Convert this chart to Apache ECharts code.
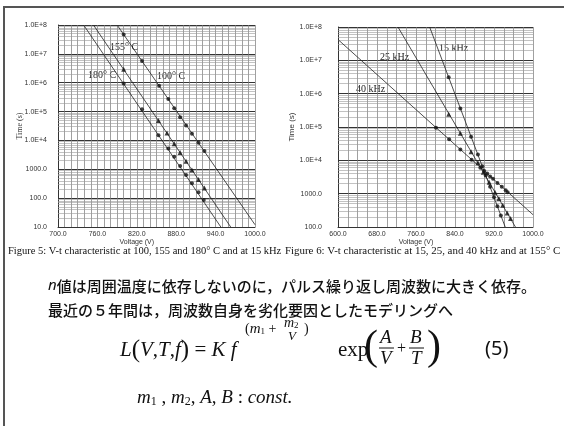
<!DOCTYPE html>
<html>
<head>
<meta charset="utf-8">
<script src="https://cdn.jsdelivr.net/npm/echarts@6/dist/echarts.min.js"></script>
<style>
html, body { margin: 0; padding: 0; background: #fff; }
#main { width: 564px; height: 426px; }
</style>
</head>
<body>
<div id="main"></div>
<script>
// Figure 5 : V-t at 100, 155, 180 C (15 kHz)
let volt100 = [800, 828, 854, 868, 877, 886, 895, 904, 914, 923];
let time100 = [4.7e7, 5.6e6, 7.9e5, 2.7e5, 1.3e5, 6.3e4, 3.3e4, 1.7e4, 8.3e3, 4.3e3];
let volt155 = [800, 853, 866, 877, 886, 895, 904, 914, 923];
let time155 = [2.9e6, 4.9e4, 1.8e4, 7.6e3, 3.8e3, 1.9e3, 950, 445, 225];
let volt180 = [800, 828, 853, 868, 877, 886, 895, 904, 914, 922];
let time180 = [9.4e5, 1.2e5, 1.5e4, 5.3e3, 2.7e3, 1.3e3, 630, 325, 160, 86];
// fitted lines (end points)
let fit100 = [[790, 1e8], [1000, 12]];
let fit155 = [[754, 1e8], [963, 10]];
let fit180 = [[739, 1e8], [948, 10]];

// Figure 6 : V-t at 15, 25, 40 kHz (155 C)
let volt15 = [827, 851, 873, 887, 896, 903, 912, 920, 927, 934];
let time15 = [3.1e6, 3.6e5, 5.1e4, 1.5e4, 6.6e3, 3.5e3, 1.6e3, 780, 420, 220];
let volt25 = [827, 851, 873, 887, 898, 910, 922, 930, 938, 947, 954];
let time25 = [2.4e5, 6.5e4, 1.8e4, 8.5e3, 4.4e3, 2.2e3, 1.1e3, 710, 450, 265, 180];
let volt40 = [801, 828, 851, 874, 892, 900, 906, 912, 918, 927, 936, 944, 948];
let time40 = [9.5e4, 4.3e4, 2.1e4, 1.05e4, 6.0e3, 4.8e3, 4.0e3, 3.3e3, 2.8e3, 2.1e3, 1.6e3, 1.26e3, 1.1e3];
let fit15 = [[788, 1e8], [943, 100]];
let fit25 = [[723, 1e8], [964, 100]];
let fit40 = [[600, 4.2e7], [1000, 234]];

// tick labels
let xTicks5 = [700, 760, 820, 880, 940, 1000];
let xLabels5 = ['700.0', '760.0', '820.0\nVoltage (V)', '880.0', '940.0', '1000.0'];
let xTicks6 = [600, 680, 760, 840, 920, 1000];
let xLabels6 = ['600.0', '680.0', '760.0\nVoltage (V)', '840.0', '920.0', '1000.0'];
let yDecades = [1, 2, 3, 4, 5, 6, 7, 8];
let yLabels = ['10.0', '100.0', '1000.0', '1.0E+4', '1.0E+5', '1.0E+6', '1.0E+7', '1.0E+8'];
let minorSteps = [2, 3, 4, 5, 6, 7, 8, 9];

function zip(a, b) {
    return a.map(function (v, i) { return [v, b[i]]; });
}
function minorLines(fromDec, toDec) {
    let out = [];
    for (let d = fromDec; d < toDec; d++) {
        minorSteps.forEach(function (s) { out.push({ yAxis: s * Math.pow(10, d) }); });
    }
    return out;
}
function yFmt(v) {
    let i = yDecades.indexOf(Math.round(Math.log10(v)));
    return i >= 0 ? yLabels[i] : '';
}
function xFmt(ticks, labels) {
    return function (v) {
        let i = ticks.indexOf(Math.round(v));
        return i >= 0 ? labels[i] : '';
    };
}

let myChart = echarts.init(document.getElementById('main'));
let labelFont = { fontSize: 7, color: '#333', fontFamily: 'Liberation Sans' };
let serif = 'Liberation Serif';

function xAxisCfg(idx, min, max, step, ticks, labels) {
    return {
        type: 'value', gridIndex: idx, min: min, max: max, interval: step,
        axisLine: { show: true, lineStyle: { color: '#333', width: 1 } },
        axisTick: { show: false },
        axisLabel: Object.assign({ margin: 3, lineHeight: 8, formatter: xFmt(ticks, labels) }, labelFont),
        splitLine: { show: true, lineStyle: { color: '#777', width: 0.7 } }
    };
}
function yAxisCfg(idx, min, max, split, margin, nameGap, nameFont) {
    return {
        type: 'log', logBase: 10, gridIndex: idx, min: min, max: max, splitNumber: split,
        name: 'Time (s)', nameLocation: 'middle', nameGap: nameGap, nameMoveOverlap: false,
        nameTextStyle: { fontSize: 8, color: '#333', fontFamily: nameFont },
        axisLine: { show: true, lineStyle: { color: '#333', width: 1 } },
        axisTick: { show: false },
        axisLabel: Object.assign({ margin: margin, formatter: yFmt }, labelFont),
        splitLine: { show: true, lineStyle: { color: '#333', width: 1 } }
    };
}
function fitLine(idx, data, minor) {
    let s = {
        type: 'line', xAxisIndex: idx, yAxisIndex: idx, data: data, symbol: 'none',
        silent: true, lineStyle: { color: '#222', width: 0.8 }, z: 3
    };
    if (minor) {
        s.markLine = {
            silent: true, symbol: ['none', 'none'], label: { show: false },
            lineStyle: { color: '#999', width: 0.6, type: 'solid' }, data: minor, z: 1
        };
    }
    return s;
}
function marks(idx, data, sym, size) {
    return {
        type: 'scatter', xAxisIndex: idx, yAxisIndex: idx, data: data,
        symbol: sym, symbolSize: size, itemStyle: { color: '#111' }, z: 4
    };
}
// plain text helper for the slide texts (x, y = left / vertical middle)
function txt(x, y, text, font, extra) {
    let style = Object.assign({ text: text, font: font, fill: '#111', verticalAlign: 'middle' }, extra || {});
    return { type: 'text', x: x, y: y, style: style };
}

let option = {
    backgroundColor: '#fff',
    animation: false,
    grid: [
        { left: 58, top: 25, width: 197, height: 202 },
        { left: 338, top: 27, width: 195, height: 200 }
    ],
    xAxis: [
        xAxisCfg(0, 700, 1000, 10, xTicks5, xLabels5),
        xAxisCfg(1, 600, 1000, 20, xTicks6, xLabels6)
    ],
    yAxis: [
        yAxisCfg(0, 10, 1e8, 7, 11, 34, serif),
        yAxisCfg(1, 100, 1e8, 6, 16, 42, 'Liberation Sans')
    ],
    series: [
        fitLine(0, fit100, minorLines(1, 8)),
        fitLine(0, fit155),
        fitLine(0, fit180),
        marks(0, zip(volt100, time100), 'circle', 4),
        marks(0, zip(volt155, time155), 'triangle', 5),
        marks(0, zip(volt180, time180), 'circle', 4),
        fitLine(1, fit15, minorLines(2, 8)),
        fitLine(1, fit25),
        fitLine(1, fit40),
        marks(1, zip(volt15, time15), 'circle', 4),
        marks(1, zip(volt25, time25), 'triangle', 5),
        marks(1, zip(volt40, time40), 'circle', 4)
    ],
    graphic: [
        // slide frame
        { type: 'line', shape: { x1: 3, y1: 7, x2: 564, y2: 7 }, style: { stroke: '#555', lineWidth: 2 } },
        { type: 'line', shape: { x1: 4, y1: 7, x2: 4, y2: 426 }, style: { stroke: '#555', lineWidth: 2 } },
        // curve labels
        txt(110, 47, '155° C', '10px "Liberation Serif"', { fill: '#222' }),
        txt(88, 75, '180° C', '10px "Liberation Serif"', { fill: '#222' }),
        txt(157, 76, '100° C', '10px "Liberation Serif"', { fill: '#222' }),
        txt(439, 48, '15 kHz', '10px "Liberation Serif"', { fill: '#222' }),
        txt(380, 57, '25 kHz', '10px "Liberation Serif"', { fill: '#222' }),
        txt(356, 89, '40 kHz', '10px "Liberation Serif"', { fill: '#222' }),
        // captions
        txt(8, 251, 'Figure 5: V-t characteristic at 100, 155 and 180° C and at 15 kHz', '10.5px "Liberation Serif"'),
        txt(285, 251, 'Figure 6: V-t characteristic at 15, 25, and 40 kHz and at 155° C', '10.9px "Liberation Serif"'),
        // Japanese notes
        txt(48, 286, '{it|n}値は周囲温度に依存しないのに，パルス繰り返し周波数に大きく依存。',
            '500 15px "Noto Sans CJK JP"',
            { rich: { it: { fontStyle: 'italic', fontFamily: 'Noto Sans', fontSize: 15 } } }),
        txt(48, 310, '最近の５年間は，周波数自身を劣化要因としたモデリングへ', '500 15px "Noto Sans CJK JP"'),
        // formula (5)
        txt(120, 350, '{i|L}{p|(}{i|V}{n|,}{i|T}{n|,}{i|f}{p|)} {n|=} {i|K f}', '21px "Liberation Serif"', {
            rich: {
                i: { fontStyle: 'italic', fontSize: 21, fontFamily: serif },
                n: { fontSize: 21, fontFamily: serif },
                p: { fontSize: 25, fontFamily: serif }
            } }),
        txt(245, 329, '{n|(}{i|m}{s|1}{n| + }', '14px "Liberation Serif"', {
            rich: {
                i: { fontStyle: 'italic', fontSize: 15, fontFamily: serif },
                n: { fontSize: 14, fontFamily: serif },
                s: { fontSize: 9, fontFamily: serif, verticalAlign: 'bottom' }
            } }),
        txt(284, 323, '{i|m}{s|2}', '14px "Liberation Serif"', {
            rich: {
                i: { fontStyle: 'italic', fontSize: 14, fontFamily: serif },
                s: { fontSize: 9, fontFamily: serif, verticalAlign: 'bottom' }
            } }),
        txt(288, 337, 'V', 'italic 13px "Liberation Serif"'),
        txt(304, 329, ')', '14px "Liberation Serif"'),
        txt(338, 350, 'exp', '21px "Liberation Serif"'),
        txt(364, 348, '(', '42px "Liberation Serif"'),
        txt(380, 338, 'A', 'italic 19px "Liberation Serif"'),
        { type: 'line', shape: { x1: 379, y1: 348, x2: 394, y2: 348 }, style: { stroke: '#111', lineWidth: 1 } },
        txt(380, 359, 'V', 'italic 19px "Liberation Serif"'),
        txt(397, 349, '+', '16px "Liberation Serif"'),
        txt(410, 338, 'B', 'italic 19px "Liberation Serif"'),
        { type: 'line', shape: { x1: 409, y1: 348, x2: 424, y2: 348 }, style: { stroke: '#111', lineWidth: 1 } },
        txt(411, 359, 'T', 'italic 19px "Liberation Serif"'),
        txt(427, 348, ')', '42px "Liberation Serif"'),
        txt(485, 349, '(5)', '20px "Noto Sans"'),
        // constants
        txt(137, 398, '{i|m}{s|1}{n| , }{i|m}{s|2}{n|, }{i|A}{n|, }{i|B}{n| : }{i|const.}', '19px "Liberation Serif"', {
            rich: {
                i: { fontStyle: 'italic', fontSize: 19, fontFamily: serif },
                n: { fontSize: 19, fontFamily: serif },
                s: { fontSize: 12, fontFamily: serif, verticalAlign: 'bottom' }
            } })
    ]
};
myChart.setOption(option);
</script>
</body>
</html>
